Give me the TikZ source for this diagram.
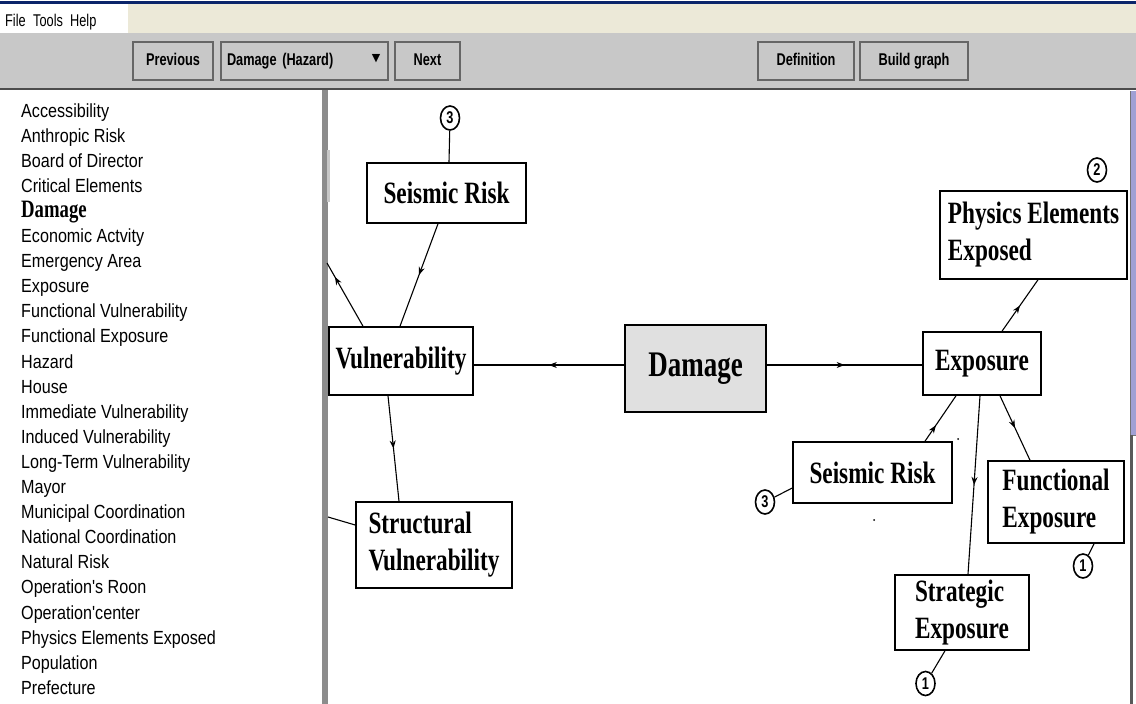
\documentclass[tikz,border=0pt]{standalone}
\usepackage{fontspec}
\setmainfont{Liberation Serif}
\newfontfamily\boxfont[FakeStretch=0.75]{Liberation Serif}
\newfontfamily\listfont[FakeStretch=0.85]{Liberation Sans}
\newfontfamily\guifont[FakeStretch=0.75]{Liberation Sans}
\newfontfamily\symfont{DejaVu Sans}
\usetikzlibrary{arrows.meta,decorations.markings,shapes.geometric}
\definecolor{menubeige}{RGB}{236,233,216}
\definecolor{bargray}{RGB}{200,200,200}
\definecolor{titleblue}{RGB}{10,36,106}
\definecolor{scrolllav}{RGB}{160,160,212}
\definecolor{hubgray}{RGB}{224,224,224}

\tikzset{
	box/.style={draw, line width=1.6pt, fill=white, inner sep=0pt, align=left,
		font=\boxfont\bfseries\fontsize{31}{37}\selectfont},
	hub/.style={box, fill=hubgray, line width=2.2pt,
		font=\boxfont\bfseries\fontsize{36}{37}\selectfont},
	tag/.style={draw, ellipse, line width=1.6pt, minimum width=19pt, minimum height=24pt,
		inner sep=0pt, font=\guifont\bfseries\fontsize{17}{17}\selectfont},
	link/.style={line width=1.1pt},
	midarrow/.style={postaction={decorate}, decoration={markings,
		mark=at position #1 with {\arrow{Stealth[length=8pt,width=6pt]}}}},
	midarrow/.default=0.5,
	item/.style={anchor=west, inner sep=0pt, text height=13pt, text depth=0pt,
		font=\listfont\fontsize{19}{20}\selectfont},
	button/.style={draw=black!60, fill=bargray, line width=1.2pt, inner sep=0pt,
		minimum height=38pt, text height=12pt, text depth=4pt,
		font=\guifont\bfseries\fontsize{17}{17}\selectfont},
	menu/.style={anchor=west, inner sep=0pt, text height=12pt, text depth=0pt,
		font=\guifont\fontsize{17}{17}\selectfont}
}

\begin{document}
\begin{tikzpicture}[x=1pt,y=-1pt]
			%%%%% START %%%%%
			\useasboundingbox (0,0) rectangle (1136,704);
			\fill[white] (0,0) rectangle (1136,704);
			
			% window bars
			\fill[titleblue] (0,1) rectangle (1136,4);
			\fill[menubeige] (128,4) rectangle (1136,33);
			\fill[bargray] (0,33) rectangle (1136,88);
			\fill[black!70] (0,88) rectangle (1136,90);
			
			\node[menu] (file) at (5,20) {File};
			\node[menu] (tools) at (33,20) {Tools};
			\node[menu] (help) at (70,20) {Help};
			
			\node[button, minimum width=80pt] (prev) at (173,61) {Previous};
			\node[button, minimum width=167pt, text width=155pt, align=left] (combo) at (304.5,61) {Damage (Hazard)};
			\node[inner sep=0pt, font=\symfont\fontsize{11}{11}\selectfont] (drop) at (376,59) {▼};
			\node[button, minimum width=65pt] (next) at (427.5,61) {Next};
			\node[button, minimum width=96pt] (defn) at (806,61) {Definition};
			\node[button, minimum width=108pt] (build) at (914,61) {Build graph};
			
			% splitter and scroll bar
			\fill[black!45] (322,90) rectangle (328,704);
			\fill[black!22] (327,150) rectangle (330,202);
			\fill[scrolllav] (1130,91) rectangle (1136,435);
			\draw[black!55, line width=1pt] (1130,91) -- (1130,435) -- (1136,435);
			\draw[black!65, line width=2.5pt] (1131.5,435) -- (1131.5,704);
			
			% concept list
			\foreach \name [count=\i from 0] in {Accessibility, Anthropic Risk, Board of Director,
				Critical Elements, {{\boxfont\bfseries\fontsize{25}{25}\selectfont Damage}},
				Economic Actvity, Emergency Area, Exposure, Functional Vulnerability,
				Functional Exposure, Hazard, House, Immediate Vulnerability, Induced Vulnerability,
				Long-Term Vulnerability, Mayor, Municipal Coordination, National Coordination,
				Natural Risk, Operation's Roon, Operation'center, Physics Elements Exposed,
				Population, Prefecture}
				\node[item] (item\i) at (21,110.5+25.1*\i) {\name};
			
			% graph
			\node[box, minimum width=159pt, minimum height=60pt] (seisA) at (446.5,193) {Seismic Risk};
			\node[box, minimum width=144pt, minimum height=68pt] (vuln) at (401,361) {Vulnerability};
			\node[hub, minimum width=141pt, minimum height=87pt] (damage) at (695.5,368.5) {Damage};
			\node[box, minimum width=118pt, minimum height=63pt] (expo) at (982,363.5) {Exposure};
			\node[box, minimum width=187pt, minimum height=88pt] (phys) at (1033.5,235) {Physics Elements\\Exposed};
			\node[box, minimum width=159pt, minimum height=61pt] (seisB) at (872.5,472.5) {Seismic Risk};
			\node[box, minimum width=136pt, minimum height=82pt] (funct) at (1056,502) {Functional\\Exposure};
			\node[box, minimum width=134pt, minimum height=75pt] (strat) at (962,612.5) {Strategic\\Exposure};
			\node[box, minimum width=156pt, minimum height=86pt] (struct) at (434,545) {Structural\\Vulnerability};
			
			\node[tag] (tagA) at (450,118) {3};
			\node[tag] (tagB) at (1097,170) {2};
			\node[tag] (tagC) at (765,502) {3};
			\node[tag] (tagD) at (1083,566) {1};
			\node[tag] (tagE) at (925.5,683.5) {1};
			
			\coordinate (offA) at (327,263);
			\coordinate (offB) at (328,517);
			
			\draw[link, midarrow] ([yshift=3.5pt]damage.west) -- ([yshift=-4pt]vuln.east);
			\draw[link, midarrow] ([yshift=3.5pt]damage.east) -- ([yshift=-1.5pt]expo.west);
			\draw[link, midarrow] ([xshift=-8.5pt]seisA.south) -- ([xshift=-1pt]vuln.north);
			\draw[link, midarrow=0.78] ([xshift=-38pt]vuln.north) -- (offA);
			\draw[link, midarrow] ([xshift=-13pt]vuln.south) -- ([xshift=-35pt]struct.north);
			\draw[link] (offB) -- ([yshift=20pt]struct.west);
			\draw[link, midarrow] ([xshift=20pt]expo.north) -- ([xshift=4.5pt]phys.south);
			\draw[link, midarrow=0.35] ([xshift=52.5pt]seisB.north) -- ([xshift=-26pt]expo.south);
			\draw[link, midarrow] ([xshift=-2pt]expo.south) -- ([xshift=6pt]strat.north);
			\draw[link, midarrow] ([xshift=18pt]expo.south) -- ([xshift=-26pt]funct.north);
			
			\draw[link] (tagA) -- ([xshift=2.5pt]seisA.north);
			\draw[link] (tagC) -- ([yshift=-15.5pt]seisB.west);
			\draw[link] ([xshift=38pt]funct.south) -- (tagD);
			\draw[link] ([xshift=-17pt]strat.south) -- (tagE);
			
			\fill (958,439) circle (1pt);
			\fill (874,520) circle (1pt);
			%%%%% END %%%%%
\end{tikzpicture}
\end{document}
